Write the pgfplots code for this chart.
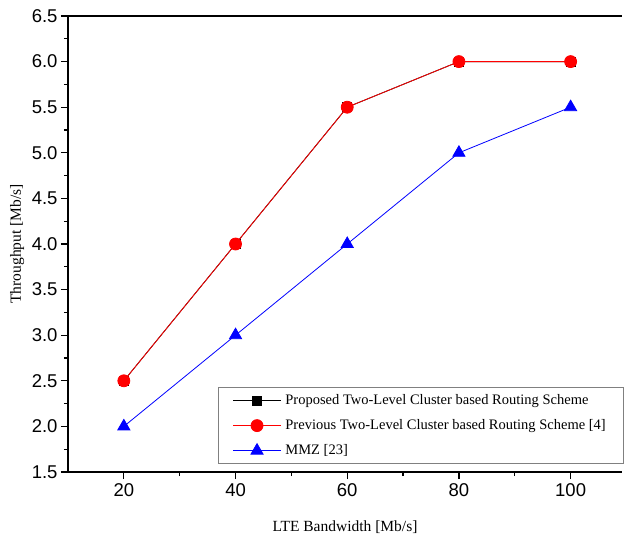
\documentclass[border=0pt]{standalone}
\usepackage{fontspec}
\setmainfont{Liberation Serif}
\newfontfamily\arial{Liberation Sans}
\usepackage{pgfplots}
\pgfplotsset{compat=1.18}
\begin{document}
\begin{tikzpicture}
\useasboundingbox (-68bp,-66bp) rectangle (556bp,472bp);
\begin{axis}[
  scale only axis,
  width=554bp, height=456bp,
  xmin=10, xmax=109.2, ymin=1.5, ymax=6.5,
  axis x line=box, axis y line=left,
  axis line style={line width=1.4bp, -},
  xtick={20,40,60,80,100}, ytick={1.5,2,...,6.5},
  minor x tick num=1, minor y tick num=1,
  xtick pos=bottom, ytick pos=left,
  tick align=outside,
  major tick length=7bp, minor tick length=4bp,
  every tick/.style={line width=1.2bp, black},
  ticklabel style={font=\arial\fontsize{18.5bp}{20bp}\selectfont},
  /pgf/number format/assume math mode=true,
  yticklabel style={/pgf/number format/.cd, fixed, fixed zerofill, precision=1},
  xticklabel style={yshift=-1bp},
  xlabel={LTE Bandwidth [Mb/s]},
  ylabel={Throughput [Mb/s]},
  label style={font=\fontsize{15.5bp}{17bp}\selectfont},
  xlabel style={at={(0.5,0)}, anchor=base, yshift=-59bp},
  ylabel style={at={(0,0.5)}, anchor=base, xshift=0bp, yshift=47bp},
  legend style={at={(0.2708,0.0175)}, anchor=south west, draw=gray, line width=1.2bp,
    font=\fontsize{14.5bp}{16bp}\selectfont, row sep=9.5bp, inner xsep=14bp, inner ysep=5bp,
    nodes={inner xsep=4bp}},
  legend cell align=left,
  legend image code/.code={
    \draw[#1, mark repeat=2, mark phase=2] plot coordinates {(-4bp,0bp) (20bp,0bp) (44bp,0bp)};
  },
]
\addplot[black, line width=0.8bp, mark=square*, mark size=4.5bp, mark options={solid}]
  coordinates {(20,2.5) (40,4.0) (60,5.5) (80,6.0) (100,6.0)};
\addlegendentry{Proposed Two-Level Cluster based Routing Scheme}
\addplot[red, line width=0.8bp, mark=*, mark size=6bp, mark options={solid, fill=red}]
  coordinates {(20,2.5) (40,4.0) (60,5.5) (80,6.0) (100,6.0)};
\addlegendentry{Previous Two-Level Cluster based Routing Scheme [4]}
\addplot[blue, line width=0.8bp, mark=triangle*, mark size=7bp, mark options={solid, fill=blue}]
  coordinates {(20,2.0) (40,3.0) (60,4.0) (80,5.0) (100,5.5)};
\addlegendentry{MMZ [23]}
\end{axis}
\end{tikzpicture}
\end{document}
